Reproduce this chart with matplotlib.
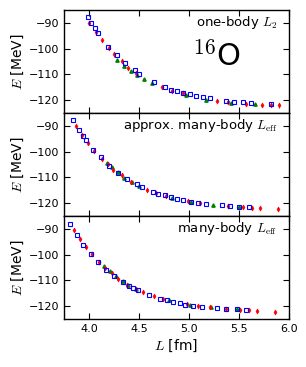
import matplotlib
matplotlib.use('Agg')
import matplotlib.pyplot as plt

plt.rcParams['mathtext.fontset'] = 'cm'
plt.rcParams['font.family'] = ['DejaVu Sans']

# --- panel 1: one-body L2 ---
p1_sq_L = [3.99, 4.025, 4.06, 4.09, 4.195, 4.28, 4.36, 4.46, 4.50, 4.65, 4.76, 4.82,
           4.88, 4.94, 5.01, 5.07, 5.14, 5.21, 5.37, 5.45, 5.54, 5.62, 5.82]
p1_sq_E = [-87.6, -90.0, -91.9, -94.0, -99.5, -102.6, -105.8, -108.4, -109.7, -113.0, -114.8, -116.0,
           -116.6, -117.4, -117.6, -118.3, -118.9, -119.4, -120.2, -120.6, -120.9, -121.1, -121.6]
p1_di_L = [4.00, 4.07, 4.13, 4.20, 4.255, 4.33, 4.39, 4.47, 4.73, 4.83, 4.94, 5.28,
           5.39, 5.57, 5.73, 5.82, 5.90]
p1_di_E = [-90.0, -93.5, -96.8, -99.6, -102.3, -105.0, -107.5, -109.6, -114.8, -116.4, -117.4, -120.3,
           -120.6, -121.5, -121.9, -121.9, -122.1]
p1_tr_L = [4.28, 4.35, 4.42, 4.48, 4.55, 4.63, 4.97, 5.17, 5.42, 5.66]
p1_tr_E = [-104.6, -106.7, -108.8, -110.1, -111.8, -113.5, -118.1, -119.8, -121.0, -121.7]

# --- panel 2: approx. many-body Leff ---
p2_sq_L = [3.843, 3.90, 3.94, 3.97, 4.04, 4.12, 4.20, 4.29, 4.38, 4.48, 4.53, 4.64, 4.69,
           4.76, 4.82, 4.88, 4.94, 5.02, 5.09, 5.17, 5.33, 5.41, 5.50, 5.60]
p2_sq_E = [-87.7, -91.8, -93.9, -95.7, -99.3, -102.3, -105.8, -108.4, -110.7, -112.7, -113.9, -115.6, -116.5,
           -117.0, -117.8, -118.4, -118.9, -119.5, -119.8, -120.2, -120.7, -121.2, -121.4, -121.6]
p2_di_L = [3.87, 3.93, 3.99, 4.05, 4.13, 4.19, 4.24, 4.33, 4.42, 4.58, 4.67, 4.77,
           4.99, 5.11, 5.39, 5.54, 5.63, 5.71, 5.89]
p2_di_E = [-90.0, -93.5, -96.5, -99.7, -102.8, -104.9, -107.1, -109.3, -111.7, -114.9, -116.0, -117.3,
           -119.3, -120.1, -121.1, -121.6, -122.0, -122.0, -122.3]
p2_tr_L = [4.18, 4.23, 4.29, 4.35, 4.43, 4.50, 4.83, 5.02, 5.24, 5.50]
p2_tr_E = [-104.3, -106.1, -108.0, -110.1, -111.9, -113.3, -118.0, -119.6, -120.6, -121.4]

# --- panel 3: many-body Leff ---
p3_sq_L = [3.81, 3.877, 3.94, 4.02, 4.09, 4.17, 4.25, 4.34, 4.40, 4.44, 4.49, 4.60, 4.71,
           4.78, 4.84, 4.91, 4.96, 5.04, 5.13, 5.28, 5.37, 5.48, 5.57]
p3_sq_E = [-88.1, -92.3, -96.1, -99.6, -103.0, -106.0, -108.5, -110.8, -112.1, -113.0, -113.9, -115.6, -117.1,
           -117.7, -118.4, -119.0, -119.4, -119.8, -120.3, -120.9, -121.0, -121.3, -121.6]
p3_di_L = [3.85, 3.91, 3.97, 4.03, 4.10, 4.16, 4.23, 4.29, 4.38, 4.47, 4.54, 4.65, 4.74,
           4.98, 5.09, 5.21, 5.37, 5.51, 5.60, 5.68, 5.86]
p3_di_E = [-90.4, -93.8, -97.0, -99.8, -102.8, -105.1, -107.2, -109.5, -111.7, -113.3, -114.7, -116.2, -117.1,
           -119.1, -120.0, -120.4, -121.0, -121.4, -121.7, -121.8, -122.2]
p3_tr_L = [4.15, 4.21, 4.27, 4.34, 4.39, 4.47, 4.80, 5.01, 5.22, 5.48]
p3_tr_E = [-104.4, -106.4, -108.3, -110.2, -111.9, -113.4, -117.7, -119.7, -120.5, -121.3]

RED_ERR = 0.8

panels = [
    (p1_sq_L, p1_sq_E, p1_di_L, p1_di_E, p1_tr_L, p1_tr_E, r'one-body $L_2$'),
    (p2_sq_L, p2_sq_E, p2_di_L, p2_di_E, p2_tr_L, p2_tr_E, r'approx. many-body $L_{\rm eff}$'),
    (p3_sq_L, p3_sq_E, p3_di_L, p3_di_E, p3_tr_L, p3_tr_E, r'many-body $L_{\rm eff}$'),
]

fig = plt.figure(figsize=(3.06, 3.67), dpi=100)
gs = fig.add_gridspec(3, 1, left=0.209, right=0.944, top=0.973, bottom=0.131, hspace=0)

for i, (sqL, sqE, diL, diE, trL, trE, label) in enumerate(panels):
    ax = fig.add_subplot(gs[i])
    ax.errorbar(diL, diE, yerr=RED_ERR, fmt='d', color='r', ms=2.6, mew=0.4,
                elinewidth=0.7, capsize=0, zorder=3)
    ax.plot(sqL, sqE, 's', mfc='none', mec='b', mew=0.8, ms=2.4, zorder=4)
    ax.plot(trL, trE, '^', color='g', mec='g', ms=2.4, zorder=2)

    ax.set_xlim(3.75, 6.0)
    ax.set_ylim(-125, -85)
    ax.set_xticks([4.0, 4.5, 5.0, 5.5, 6.0])
    ax.set_yticks([-90, -100, -110, -120])
    ax.tick_params(direction='in', top=True, right=True, labelsize=8, length=4, width=0.8)
    for s in ax.spines.values():
        s.set_linewidth(1.0)
    ax.set_ylabel(r'$E$ [MeV]', fontsize=10, labelpad=2)
    ax.text(0.95, 0.96, label, transform=ax.transAxes, ha='right', va='top', fontsize=9.5)
    if i < 2:
        ax.tick_params(labelbottom=False)
    else:
        ax.set_xticklabels(['4.0', '4.5', '5.0', '5.5', '6.0'])
        ax.set_xlabel(r'$L$ [fm]', fontsize=10, labelpad=3)
    if i == 0:
        ax.text(0.68, 0.46, r'$^{16}$O', transform=ax.transAxes, ha='center', va='baseline',
                fontsize=22)

fig.savefig('out.png', dpi=100)
